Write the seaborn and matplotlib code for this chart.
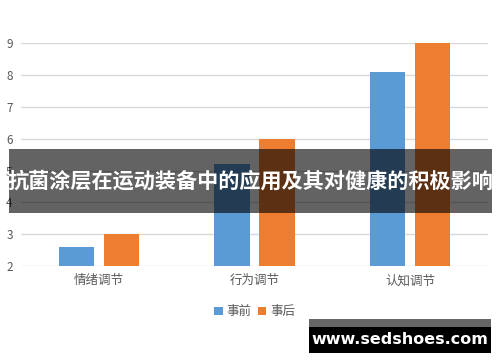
import matplotlib
matplotlib.use('Agg')
import matplotlib.pyplot as plt
from matplotlib.patches import Rectangle
import pandas as pd
import seaborn as sns

categories = ['情绪调节', '行为调节', '认知调节']
before = [2.6, 5.2, 8.1]
after = [3.0, 6.0, 9.0]
series = ['事前', '事后']
colors = ['#5B9BD5', '#ED7D31']
yticks = [2, 3, 4, 5, 6, 7, 8, 9]
title = '抗菌涂层在运动装备中的应用及其对健康的积极影响'
watermark = 'www.sedshoes.com'

sns.set_theme(style='white')
plt.rcParams['font.family'] = ['Noto Sans CJK SC', 'DejaVu Sans']

df = pd.DataFrame({
    'cat': categories * 2,
    'val': before + after,
    'series': [series[0]] * 3 + [series[1]] * 3,
})

fig = plt.figure(figsize=(5, 3.62), dpi=100)
ax = fig.add_axes([0.042, 0.265, 0.934, 0.616])

sns.barplot(data=df, x='cat', y='val', hue='series', palette=colors,
            saturation=1, width=0.58, gap=0.22, linewidth=0, ax=ax, legend=True)

ax.set_ylim(2, 9)
ax.set_yticks(yticks)
ax.set_xlim(-0.5, 2.5)
ax.grid(axis='y', color='#D9D9D9', linewidth=1)
ax.set_axisbelow(True)
for s in ax.spines.values():
    s.set_visible(False)
ax.set_xlabel('')
ax.set_ylabel('')
ax.tick_params(axis='y', labelsize=8.5, labelcolor='#595959', length=0, pad=6)
ax.tick_params(axis='x', labelsize=9, labelcolor='#595959', length=0, pad=6)

leg = ax.legend(loc='center', bbox_to_anchor=(0.5, -0.205), ncol=2,
                frameon=False, fontsize=9, handlelength=0.7, handleheight=0.7,
                handletextpad=0.3, columnspacing=0.5)
for t in leg.get_texts():
    t.set_color('#595959')

# dark translucent title band
fig.add_artist(Rectangle((0.018, 0.412), 0.966, 0.177, transform=fig.transFigure,
                         facecolor='black', alpha=0.61, linewidth=0, zorder=10))
fig.text(0.501, 0.5, title, color='white', fontsize=15.2, fontweight='bold',
         ha='center', va='center', zorder=11)

# watermark box
fig.add_artist(Rectangle((0.618, 0.097), 0.364, 0.022, transform=fig.transFigure,
                         facecolor='#666666', linewidth=0, zorder=10))
fig.add_artist(Rectangle((0.618, 0.025), 0.364, 0.072, transform=fig.transFigure,
                         facecolor='black', linewidth=0, zorder=10))
fig.text(0.8, 0.061, watermark, color='white', fontsize=11.5, fontweight='bold',
         ha='center', va='center', family=['DejaVu Sans'], zorder=11)

fig.savefig('out.png', dpi=100)
